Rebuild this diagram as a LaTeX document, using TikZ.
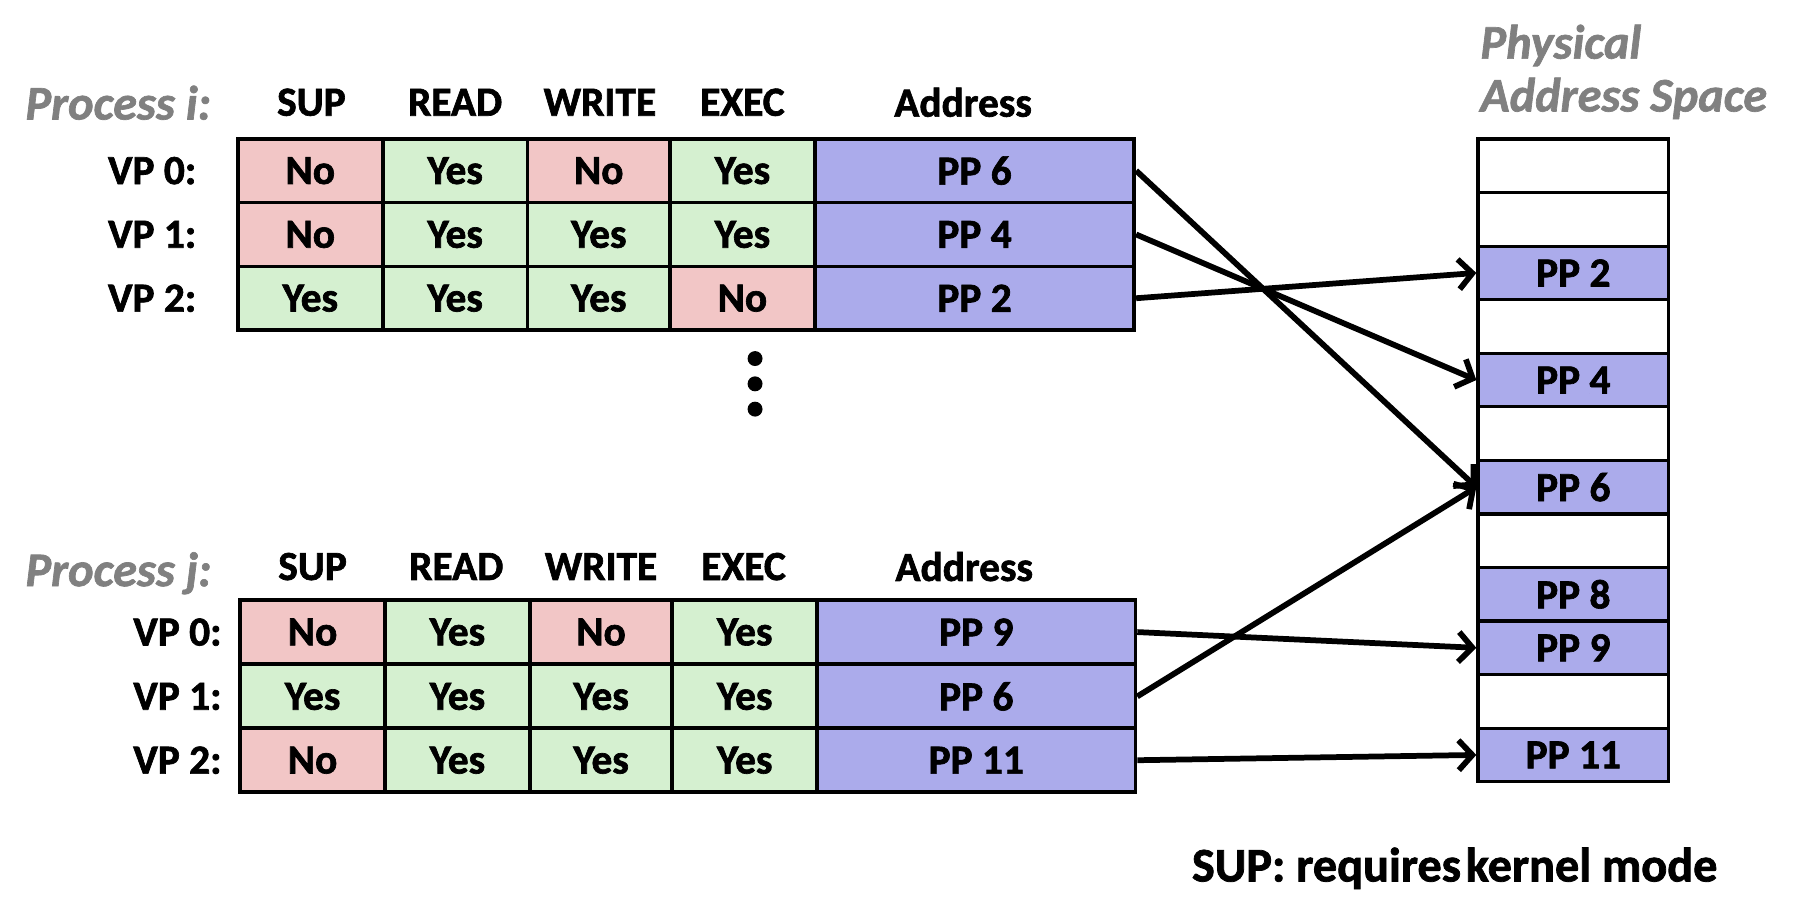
\documentclass[tikz,border=0pt]{standalone}
\usepackage{fontspec}
\setmainfont{Carlito}[BoldFeatures={FakeBold=1.6},BoldItalicFeatures={FakeBold=1.4}]
\usetikzlibrary{arrows.meta}
\definecolor{nored}{HTML}{F2C6C6}
\definecolor{yesgreen}{HTML}{D5F0D0}
\definecolor{ppblue}{HTML}{ABABEB}
\definecolor{labgray}{HTML}{808080}
\tikzset{
  txt/.style={font=\fontsize{36}{40}\selectfont\bfseries, inner sep=0pt},
  cell/.style={txt, draw, line width=3.2pt, minimum height=55.5pt},
  no/.style={cell, fill=nored, node contents=No},
  yes/.style={cell, fill=yesgreen, node contents=Yes},
  addr/.style={cell, fill=ppblue},
  proc/.style={font=\fontsize{42}{48}\selectfont\bfseries\itshape, text=labgray, inner sep=0pt},
  physbox/.style={txt, draw, line width=2.8pt, minimum width=166pt, minimum height=46.6pt},
  arr/.style={-{Straight Barb[length=12pt,width=26pt]}, line width=5pt},
  dotnode/.style={circle, fill=black, inner sep=0pt, minimum size=13pt},
}
\begin{document}
\begin{tikzpicture}[x=1pt,y=-1pt]
\useasboundingbox (0,0) rectangle (1568,787);
% ---- Process i
\node[proc, anchor=base west] (pi) at (22,104) {Process i:};
\node[txt] (hi1) at (271,89) {SUP};
\node[txt] (hi2) at (396,89) {READ};
\node[txt] (hi3) at (522,89) {WRITE};
\node[txt] (hi4) at (646,89) {EXEC};
\node[txt] (hi5) at (838,89) {Address};
\foreach \r/\y/\a/\b/\c/\d/\pp in {0/148.5/no/yes/no/yes/6, 1/204/no/yes/yes/yes/4, 2/259.5/yes/yes/yes/no/2} {
  \node[txt, anchor=east] (ti\r) at (171,\y) {VP \r:};
  \node (t\r1) at (270,\y) [\a, minimum width=126pt];
  \node (t\r2) at (396,\y) [\b, minimum width=126pt];
  \node (t\r3) at (521,\y) [\c, minimum width=124pt];
  \node (t\r4) at (646,\y) [\d, minimum width=126pt];
  \node[addr, minimum width=278pt] (t\r5) at (848,\y) {PP \pp};
}
\node[dotnode] (d1) at (657,312) {};
\node[dotnode] (d2) at (657,334) {};
\node[dotnode] (d3) at (657,356) {};
% ---- Process j
\node[proc, anchor=base west] (pj) at (22,510) {Process j:};
\node[txt] (hj1) at (272,493) {SUP};
\node[txt] (hj2) at (397,493) {READ};
\node[txt] (hj3) at (523,493) {WRITE};
\node[txt] (hj4) at (647,493) {EXEC};
\node[txt] (hj5) at (839,493) {Address};
\foreach \r/\y/\a/\b/\c/\d/\pp in {0/550/no/yes/no/yes/9, 1/606/yes/yes/yes/yes/6, 2/661.5/no/yes/yes/yes/11} {
  \node[txt, anchor=east] (tj\r) at (193,\y) {VP \r:};
  \node (b\r1) at (272,\y) [\a, minimum width=126pt];
  \node (b\r2) at (398,\y) [\b, minimum width=126pt];
  \node (b\r3) at (523,\y) [\c, minimum width=124pt];
  \node (b\r4) at (648,\y) [\d, minimum width=126pt];
  \node[addr, minimum width=277pt] (b\r5) at (849.5,\y) {PP \pp};
}
% ---- Physical address space
\node[proc, anchor=base west] (ph1) at (1288,51) {Physical};
\node[proc, anchor=base west] (ph2) at (1288,97) {Address Space};
\foreach \k in {0,1,3,5,7,10} {
  \node[physbox, fill=white] (p\k) at (1369,{121+46.6*(\k+0.5)}) {};
}
\foreach \k/\lab in {2/2,4/4,6/6,8/8,9/9,11/11} {
  \node[physbox, fill=ppblue] (p\k) at (1369,{121+46.6*(\k+0.5)}) {PP \lab};
}
% ---- arrows
\draw[arr] (t05.east) -- (p6.west);
\draw[arr] (t15.east) -- (p4.west);
\draw[arr] (t25.east) -- (p2.west);
\draw[arr] (b05.east) -- (p9.west);
\draw[arr] (b15.east) -- (p6.west);
\draw[arr] (b25.east) -- (p11.west);
% ---- note
\node[font=\fontsize{42}{48}\selectfont\bfseries, inner sep=0pt, anchor=base west] (note) at (1037,767) {SUP: requires\hspace{0.1em}kernel mode};
\end{tikzpicture}
\end{document}
